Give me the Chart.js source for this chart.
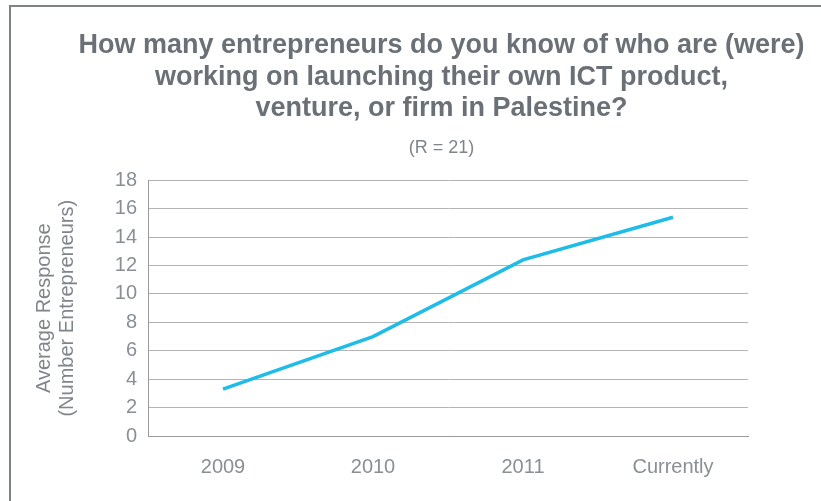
<!DOCTYPE html>
<html>
<head>
<meta charset="utf-8">
<script src="https://cdn.jsdelivr.net/npm/chart.js@4/dist/chart.umd.min.js"></script>
<style>
  html, body { margin: 0; padding: 0; background: #fff; }
  #wrap { position: relative; width: 821px; height: 501px; overflow: hidden; }
  #frame { position: absolute; left: 9px; top: 5px; width: 900px; height: 600px;
           border-left: 2px solid #7c848a; border-top: 2px solid #7c848a; }
  canvas { position: absolute; left: 0; top: 0; }
</style>
</head>
<body>
<div id="wrap">
  <div id="frame"></div>
  <canvas id="chart" width="821" height="501"></canvas>
</div>
<script>
const categories = ['2009', '2010', '2011', 'Currently']
const averageResponse = [3.3, 7.0, 12.4, 15.4]
const titleLines = [
  'How many entrepreneurs do you know of who are (were)',
  'working on launching their own ICT product,',
  'venture, or firm in Palestine?'
]
const subtitleText = '(R = 21)'
const yTitleLines = ['Average Response', '(Number Entrepreneurs)']

const fontFamily = "'Liberation Sans', Arial, Helvetica, sans-serif"

// title + subtitle are centred over the plot rather than the whole canvas
const shiftTitles = {
  id: 'shiftTitles',
  afterLayout (chart) {
    chart.boxes.forEach((box) => {
      if (box.fullSize && box.position === 'top') {
        box.left = 62
        box.right = 821
        box.width = box.right - box.left
      }
    })
  }
}

new Chart(document.getElementById('chart').getContext('2d'), {
  type: 'line',
  data: {
    labels: categories,
    datasets: [{
      label: 'Average Response',
      data: averageResponse,
      borderColor: '#1ebce6',
      backgroundColor: '#1ebce6',
      borderWidth: 3.5,
      pointRadius: 0,
      tension: 0
    }]
  },
  options: {
    responsive: false,
    animation: false,
    layout: { padding: { left: 0, right: 73, top: 0, bottom: 0 } },
    plugins: {
      legend: { display: false },
      tooltip: { enabled: false },
      title: {
        display: true,
        text: titleLines,
        color: '#6b7077',
        font: { family: fontFamily, size: 27, weight: 'bold', lineHeight: 1.17 },
        padding: { top: 30, bottom: 12 }
      },
      subtitle: {
        display: true,
        text: subtitleText,
        color: '#80858b',
        font: { family: fontFamily, size: 18, lineHeight: 1.2 },
        padding: { top: 0, bottom: 22 }
      }
    },
    scales: {
      x: {
        offset: true,
        afterFit: (scale) => { scale.height = 65 },
        grid: { display: false },
        border: { display: true, color: '#9a9a9a', width: 1 },
        ticks: {
          color: '#8a8f95',
          font: { family: fontFamily, size: 20 },
          padding: 11
        }
      },
      y: {
        min: 0,
        max: 18,
        afterFit: (scale) => { scale.width = 148 },
        grid: { color: '#b4b4b4', lineWidth: 1, drawTicks: false },
        border: { display: true, color: '#9a9a9a', width: 1 },
        ticks: {
          stepSize: 2,
          autoSkip: false,
          color: '#8a8f95',
          font: { family: fontFamily, size: 20 },
          padding: 11
        },
        title: {
          display: true,
          text: yTitleLines,
          color: '#80858b',
          font: { family: fontFamily, size: 20, lineHeight: 1.15 },
          padding: { top: 33, bottom: 0 }
        }
      }
    }
  },
  plugins: [shiftTitles]
})
</script>
</body>
</html>
